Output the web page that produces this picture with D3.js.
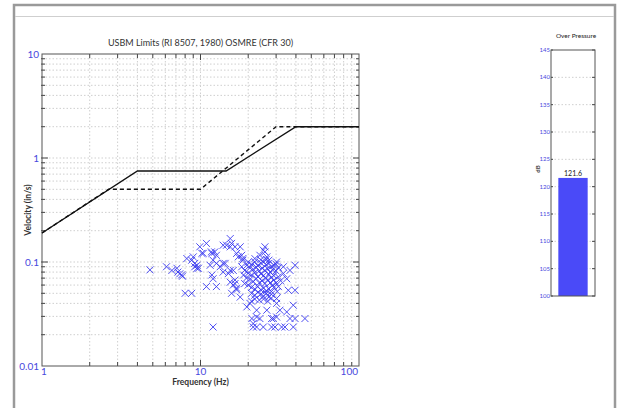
<!DOCTYPE html>
<html><head><meta charset="utf-8">
<script src="https://cdn.jsdelivr.net/npm/d3@7"></script>
<style>body{margin:0;background:#fff;}svg{display:block;font-family:Lato,"Open Sans",sans-serif;}</style>
</head><body><svg id="c" width="619" height="408"></svg>
<script>
// ---- data ----
const chartTitle = "USBM Limits (RI 8507, 1980) OSMRE (CFR 30)";
const xTickLabels = [1, 10, 100];
const yTickLabels = [0.01, 0.1, 1, 10];
const usbmFreq = [1, 4, 14.5, 40, 100];
const usbmVel = [0.19, 0.75, 0.75, 2.0, 2.0];
const osmreFreq = [1, 2.63, 10, 30, 100];
const osmreVel = [0.19, 0.5, 0.5, 2.0, 2.0];
const eventFreq = [4.8,6.1,6.6,7.1,7.2,7.4,7.6,7.7,8.0,8.8,8.2,8.8,9.0,9.2,9.2,9.5,9.5,9.7,9.9,10.2,10.4,10.9,11.7,11.8,12.3,
 11.5,12.6,13.3,14.3,11.8,12.0,10.9,12.6,12.0,12.6,12.0,14.6,15.4,15.7,16.5,17.8,15.4,13.9,
 13.9,15.0,16.1,15.4,16.5,15.7,16.9,16.1,16.9,17.8,17.3,18.2,18.5,19.6,18.2,16.9,18.5,13.9,15.4,16.5,
 25.5,25.5,24.9,23.7,26.2,30.2,33.3,36.7,39.5,35.0,33.3,35.8,39.5,30.2,30.2,38.5,
 20.5,19.6,22.6,26.2,31.7,35.0,21.1,23.7,28.8,30.2,36.7,39.5,45.6,21.5,22.6,24.9,28.1,29.5,32.5,34.1,38.5,21.5,22.6,28.1,
 20,21,22,23,24,25,26,27,28,29,20.5,21.5,22.5,23.5,24.5,25.5,26.5,27.5,28.5,30,
 20,21,22,23,24,25,26,27,28,29,31,20.5,21.5,22.5,23.5,24.5,25.5,26.5,27.5,28.5,
 20,21,22,23,24,25,26,27,28,29,21,22,23,24,25,26,27,28,22,23.5,25,26.5,28,21,
 19,19.5,19,18.7,30,31,30.5,32,31,29,30,22,24,26,27];
const eventVel = [0.084,0.09,0.083,0.087,0.08,0.077,0.075,0.073,0.05,0.05,0.108,0.104,0.112,0.097,0.09,0.093,0.087,0.087,0.14,0.121,0.121,0.151,0.125,0.121,0.125,
 0.093,0.097,0.09,0.097,0.075,0.069,0.058,0.058,0.0237,0.116,0.104,0.145,0.168,0.151,0.14,0.14,0.14,0.145,
 0.08,0.0775,0.083,0.064,0.062,0.05,0.056,0.06,0.054,0.046,0.112,0.116,0.104,0.093,0.09,0.121,0.108,0.097,0.083,0.067,
 0.14,0.125,0.13,0.116,0.112,0.1,0.09,0.083,0.093,0.069,0.0775,0.0535,0.0535,0.0446,0.04,0.0384,
 0.04,0.037,0.0344,0.0344,0.0344,0.0331,0.0286,0.0286,0.0286,0.0296,0.0286,0.0286,0.0286,0.0237,0.0237,0.0237,0.0237,0.0237,0.0237,0.0237,0.0237,0.0256,0.0296,0.0286,
 0.1,0.095,0.1,0.092,0.098,0.1,0.094,0.097,0.09,0.093,0.088,0.085,0.089,0.082,0.087,0.083,0.086,0.08,0.084,0.082,
 0.078,0.075,0.079,0.072,0.077,0.074,0.07,0.076,0.071,0.074,0.072,0.068,0.065,0.069,0.063,0.066,0.062,0.067,0.063,0.06,
 0.06,0.057,0.055,0.058,0.054,0.056,0.053,0.055,0.052,0.057,0.05,0.048,0.051,0.049,0.047,0.05,0.046,0.049,0.044,0.043,0.044,0.042,0.045,0.042,
 0.083,0.07,0.062,0.075,0.063,0.058,0.052,0.066,0.088,0.067,0.095,0.108,0.105,0.106,0.104];
const barCategories = ["Over Pressure"];
const barValues = [121.6];
const barTicks = [100,105,110,115,120,125,130,135,140,145];

// ---- drawing ----
const svg = d3.select("#c");
const blue = "#4848dd";
// page frame
svg.append("rect").attr("x",14).attr("y",5).attr("width",601).attr("height",420)
  .attr("fill","none").attr("stroke","#9a9a9a").attr("stroke-width",2.5);
svg.append("line").attr("x1",15).attr("x2",614).attr("y1",16.5).attr("y2",16.5).attr("stroke","#cfcfcf");

const L=42, R=359, T=54, B=366;
const x = d3.scaleLog().domain([1,100]).range([L,R]);
const y = d3.scaleLog().domain([0.01,10]).range([B,T]);
const g = svg.append("g");
const minorX = [], minorY = [];
for (let d=1; d<100; d*=10) for (let k=2;k<=9;k++) minorX.push(d*k);
for (let d=0.01; d<9; d*=10) for (let k=2;k<=9;k++) minorY.push(+(d*k).toPrecision(3));
const majX=[10], majY=[0.1,1];
// grid
g.selectAll(".gx").data(minorX.concat(majX)).join("line")
  .attr("x1",d=>x(d)).attr("x2",d=>x(d)).attr("y1",T).attr("y2",B)
  .attr("stroke","#cfcfcf").attr("stroke-dasharray","1.5,2");
g.selectAll(".gy").data(minorY.concat(majY)).join("line")
  .attr("y1",d=>y(d)).attr("y2",d=>y(d)).attr("x1",L).attr("x2",R)
  .attr("stroke","#cfcfcf").attr("stroke-dasharray","1.5,2");
// ticks
function tick(list, len){
  list.forEach(d=>{
    g.append("line").attr("x1",x(d)).attr("x2",x(d)).attr("y1",B).attr("y2",B-len).attr("stroke","#444");
    g.append("line").attr("x1",x(d)).attr("x2",x(d)).attr("y1",T).attr("y2",T+len).attr("stroke","#444");
  });
}
tick(minorX,4); tick(majX,6);
function ticky(list,len){
  list.forEach(d=>{
    g.append("line").attr("y1",y(d)).attr("y2",y(d)).attr("x1",L-1).attr("x2",L+len).attr("stroke","#444");
    g.append("line").attr("y1",y(d)).attr("y2",y(d)).attr("x1",R).attr("x2",R-len).attr("stroke","#444");
  });
}
ticky(minorY,3); ticky(majY,6);
g.append("rect").attr("x",L).attr("y",T).attr("width",R-L).attr("height",B-T)
  .attr("fill","none").attr("stroke","#555");
// tick labels
g.selectAll(".xl").data(xTickLabels).join("text")
  .attr("x",(d,i)=>x(d)+(i===0?-1:(i===xTickLabels.length-1?-1:0))).attr("y",B+9)
  .attr("text-anchor",(d,i)=>i===0?"start":(i===xTickLabels.length-1?"end":"middle"))
  .attr("fill",blue).attr("font-size",10).text(d=>d);
g.selectAll(".yl").data(yTickLabels).join("text")
  .attr("x",L-3).attr("y",d=>y(d)+3.5).attr("text-anchor","end")
  .attr("fill",blue).attr("font-size",10).text(d=>d);
// titles
svg.append("text").attr("x",(L+R)/2).attr("y",46).attr("text-anchor","middle")
  .attr("font-size",9).attr("fill","#333").text(chartTitle);
svg.append("text").attr("x",(L+R)/2).attr("y",385).attr("text-anchor","middle")
  .attr("font-size",8.5).attr("font-weight","bold").attr("fill","#333").text("Frequency (Hz)");
svg.append("text").attr("transform",`translate(31,${(T+B)/2}) rotate(-90)`).attr("text-anchor","middle")
  .attr("font-size",8.5).attr("font-weight","bold").attr("fill","#333").text("Velocity (in/s)");
// limit lines
const line = d3.line().x(d=>x(d[0])).y(d=>y(d[1]));
g.append("path").datum(osmreFreq.map((f,i)=>[f,osmreVel[i]])).attr("d",line)
  .attr("fill","none").attr("stroke","#111").attr("stroke-width",1.4).attr("stroke-dasharray","4,3");
g.append("path").datum(usbmFreq.map((f,i)=>[f,usbmVel[i]])).attr("d",line)
  .attr("fill","none").attr("stroke","#111").attr("stroke-width",1.4);
// events
const s=3.5;
g.selectAll(".pt").data(eventFreq.map((f,i)=>[f,eventVel[i]])).join("path")
  .attr("d",d=>{const px=x(d[0]),py=y(d[1]);return `M${px-s},${py-s}L${px+s},${py+s}M${px-s},${py+s}L${px+s},${py-s}`;})
  .attr("stroke","#3a3af0").attr("stroke-width",0.9).attr("fill","none");

// ---- bar chart ----
const bL=551, bR=595, bT=50, bB=296;
const by = d3.scaleLinear().domain([100,145]).range([bB,bT]);
const bx = d3.scaleBand().domain(barCategories).range([bL,bR]).paddingInner(0).paddingOuter(0.25);
const bg = svg.append("g");
bg.selectAll(".bgrid").data(barTicks.slice(1,-1)).join("line")
  .attr("x1",bL).attr("x2",bR).attr("y1",d=>by(d)).attr("y2",d=>by(d))
  .attr("stroke","#cfcfcf").attr("stroke-dasharray","1.5,2");
bg.selectAll(".bar").data(barValues).join("rect")
  .attr("x",(d,i)=>bx(barCategories[i])).attr("width",bx.bandwidth())
  .attr("y",d=>by(d)).attr("height",d=>bB-by(d)).attr("fill","#4a4af8");
bg.selectAll(".bt").data(barTicks).join("line")
  .attr("x1",bR).attr("x2",bR-3).attr("y1",d=>by(d)).attr("y2",d=>by(d)).attr("stroke","#444");
bg.selectAll(".bt2").data(barTicks).join("line")
  .attr("x1",bL).attr("x2",bL+2).attr("y1",d=>by(d)).attr("y2",d=>by(d)).attr("stroke","#444");
bg.append("rect").attr("x",bL).attr("y",bT).attr("width",bR-bL).attr("height",bB-bT)
  .attr("fill","none").attr("stroke","#555");
bg.selectAll(".bl").data(barTicks).join("text")
  .attr("x",bL-1).attr("y",d=>by(d)+2).attr("text-anchor","end")
  .attr("font-size",6).attr("fill",blue).text(d=>d);
bg.selectAll(".bv").data(barValues).join("text")
  .attr("x",(d,i)=>bx(barCategories[i])+bx.bandwidth()/2).attr("y",d=>by(d)-2)
  .attr("text-anchor","middle").attr("font-size",7).attr("fill","#222").text(d=>d);
svg.append("text").attr("x",(bL+bR)/2+3).attr("y",38).attr("text-anchor","middle")
  .attr("font-size",6.5).attr("fill","#222").text(barCategories[0]);
svg.append("text").attr("transform","translate(540,169) rotate(-90)").attr("text-anchor","middle")
  .attr("font-size",6).attr("font-weight","bold").attr("fill","#444").text("dB");
</script></body></html>
